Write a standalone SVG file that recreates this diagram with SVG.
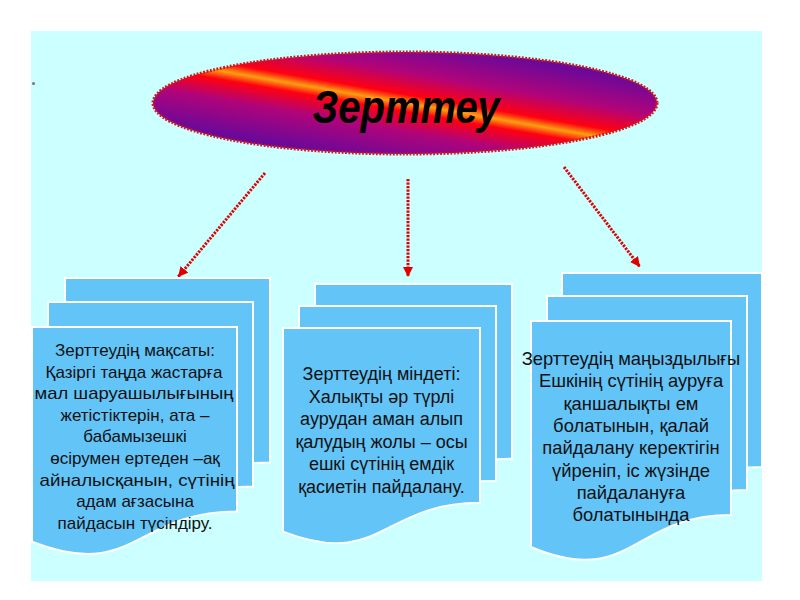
<svg xmlns="http://www.w3.org/2000/svg" width="800" height="600" viewBox="0 0 800 600">
<defs>
<linearGradient id="eg" gradientUnits="userSpaceOnUse" x1="393" y1="172" x2="417" y2="34">
<stop offset="0" stop-color="#5a0aa0"/>
<stop offset="0.3" stop-color="#b0047a"/>
<stop offset="0.44" stop-color="#ff0010"/>
<stop offset="0.5" stop-color="#ffa010"/>
<stop offset="0.56" stop-color="#ff0010"/>
<stop offset="0.72" stop-color="#b0047a"/>
<stop offset="1" stop-color="#5a0aa0"/>
</linearGradient>
<marker id="ah" markerUnits="userSpaceOnUse" markerWidth="10" markerHeight="10" refX="10" refY="5" orient="auto" viewBox="0 0 10 10">
<path d="M0,0 L10,5 L0,10 z" fill="#e00000"/>
</marker>
<style>
.doc{fill:#63c4f8;stroke:#ffffff;stroke-width:2}
.conn{fill:none;stroke:#e00000;stroke-width:3;stroke-dasharray:2.2 1.3}
.t{font-family:"Liberation Sans",Arial,sans-serif;font-size:17px;fill:#111;text-anchor:middle}
.t2{font-size:18px}
.t3{font-size:18.4px}
.title{font-family:"Liberation Sans",Arial,sans-serif;font-size:46px;font-weight:bold;font-style:italic;fill:#000;text-anchor:middle}
</style>
</defs>
<rect x="31" y="31" width="731" height="550" fill="#ccffff"/>
<circle cx="33.5" cy="83.5" r="1.5" fill="#777"/>

<g id="connectors">
<line class="conn" x1="265" y1="173" x2="178" y2="277" marker-end="url(#ah)"/>
<line class="conn" x1="408" y1="179" x2="408" y2="277" marker-end="url(#ah)"/>
<line class="conn" x1="564" y1="167" x2="640" y2="267" marker-end="url(#ah)"/>
</g>

<g id="title">
<ellipse cx="405" cy="103" rx="252" ry="51" fill="url(#eg)" stroke="#d01818" stroke-width="3" stroke-dasharray="1.8 1.6"/>
<text class="title" x="406" y="123" textLength="187" lengthAdjust="spacingAndGlyphs">Зерттеу</text>
</g>

<g id="goal">
<path class="doc" d="M65,278 H270 V462.5 C167.5,462.5 167.5,532.7 65,492.8 Z"/>
<path class="doc" d="M48,302 H253 V486.5 C150.5,486.5 150.5,556.7 48,516.8 Z"/>
<path class="doc" d="M32,327 H237 V511.5 C134.5,511.5 134.5,581.7 32,541.8 Z"/>
<text class="t" x="135" y="356">Зерттеудің мақсаты:</text>
<text class="t" x="134" y="377.6">Қазіргі таңда жастарға</text>
<text class="t" x="134" y="399.2" textLength="199" lengthAdjust="spacingAndGlyphs">мал шаруашылығының</text>
<text class="t" x="135" y="420.8">жетістіктерін, ата –</text>
<text class="t" x="135" y="442.4">бабамызешкі</text>
<text class="t" x="135" y="464">өсірумен ертеден –ақ</text>
<text class="t" x="137" y="485.6" textLength="195" lengthAdjust="spacingAndGlyphs">айналысқанын, сүтінің</text>
<text class="t" x="135" y="507.2">адам ағзасына</text>
<text class="t" x="135" y="528.8">пайдасын түсіндіру.</text>
</g>

<g id="task">
<path class="doc" d="M315,284 H512 V458.8 C413.5,458.8 413.5,525.4 315,487.6 Z"/>
<path class="doc" d="M299,306 H496 V480.8 C397.5,480.8 397.5,547.4 299,509.6 Z"/>
<path class="doc" d="M283,328 H480 V502.8 C381.5,502.8 381.5,569.4 283,531.6 Z"/>
<text class="t t2" x="381.5" y="380">Зерттеудің міндеті:</text>
<text class="t t2" x="381.5" y="402.5">Халықты әр түрлі</text>
<text class="t t2" x="381.5" y="425">аурудан аман алып</text>
<text class="t t2" x="381.5" y="447.5">қалудың жолы – осы</text>
<text class="t t2" x="381.5" y="470">ешкі сүтінің емдік</text>
<text class="t t2" x="381.5" y="492.5">қасиетін пайдалану.</text>
</g>

<g id="importance">
<path class="doc" d="M562,273 H762 V467.1 C662,467.1 662,541 562,499 Z"/>
<path class="doc" d="M547,296 H747 V490.1 C647,490.1 647,564 547,522 Z"/>
<path class="doc" d="M531,321 H731 V515.1 C631,515.1 631,589 531,547 Z"/>
<text class="t t3" x="631" y="365">Зерттеудің маңыздылығы</text>
<text class="t t3" x="631" y="387.3">Ешкінің сүтінің ауруға</text>
<text class="t t3" x="631" y="409.6">қаншалықты ем</text>
<text class="t t3" x="631" y="431.9">болатынын, қалай</text>
<text class="t t3" x="631" y="454.2">пайдалану керектігін</text>
<text class="t t3" x="631" y="476.5">үйреніп, іс жүзінде</text>
<text class="t t3" x="631" y="498.8">пайдалануға</text>
<text class="t t3" x="631" y="521.1">болатынында</text>
</g>
</svg>
